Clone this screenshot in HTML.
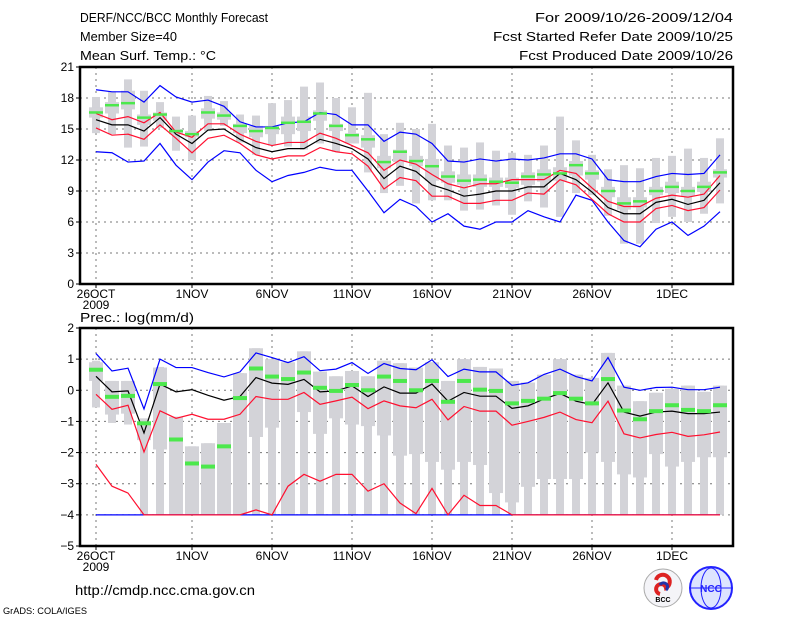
<!DOCTYPE html>
<html><head><meta charset="utf-8"><style>
body{margin:0;background:#fff;}
svg{display:block;font-family:"Liberation Sans",sans-serif;}
</style></head><body>
<svg id="chart" width="800" height="618" viewBox="0 0 800 618" xmlns="http://www.w3.org/2000/svg">
<rect width="800" height="618" fill="#fff"/>
<g font-size="13" fill="#000">
<text x="80" y="22" textLength="188" lengthAdjust="spacingAndGlyphs">DERF/NCC/BCC Monthly Forecast</text>
<text x="80" y="41" textLength="97" lengthAdjust="spacingAndGlyphs">Member Size=40</text>
<text x="80" y="60" textLength="136" lengthAdjust="spacingAndGlyphs">Mean Surf. Temp.: °C</text>
<text x="535" y="22" textLength="198" lengthAdjust="spacingAndGlyphs">For 2009/10/26-2009/12/04</text>
<text x="493" y="41" textLength="240" lengthAdjust="spacingAndGlyphs">Fcst Started Refer Date 2009/10/25</text>
<text x="519" y="60" textLength="214" lengthAdjust="spacingAndGlyphs">Fcst Produced Date 2009/10/26</text>
</g>
<text x="80" y="322" font-size="13" textLength="114" lengthAdjust="spacingAndGlyphs">Prec.: log(mm/d)</text>
<g id="top"></g>
<g id="bot"></g>
<text x="75" y="595" font-size="14" textLength="180" lengthAdjust="spacingAndGlyphs">http://cmdp.ncc.cma.gov.cn</text>
<text x="3" y="614" font-size="9" textLength="84" lengthAdjust="spacingAndGlyphs">GrADS: COLA/IGES</text>
<g>
<circle cx="663" cy="588" r="19" fill="#f4f4f8" stroke="#aaa"/>
<path d="M656 580 a7 7 0 1 1 10 8 a5 5 0 1 0 -6 6" fill="none" stroke="#d22" stroke-width="4"/>
<path d="M660 585 a4 4 0 1 1 6 5" fill="none" stroke="#23a" stroke-width="3"/>
<text x="663" y="602" font-size="7" text-anchor="middle" font-weight="bold">BCC</text>
</g>
<g>
<circle cx="711" cy="588" r="21" fill="#dde4ff" stroke="#22f" stroke-width="2"/>
<ellipse cx="711" cy="588" rx="10" ry="20" fill="none" stroke="#22f"/>
<line x1="691" y1="588" x2="731" y2="588" stroke="#22f"/>
<text x="711" y="592" font-size="10" text-anchor="middle" fill="#22f" font-weight="bold">NCC</text>
</g>
</svg>
<script>
// ---- Temperature data (days 0..39) ----
const tBlueMax=[18.8,18.6,18.6,17.6,19.2,18.1,17.6,17.8,17.2,15.7,15.2,15.2,15.6,15.7,16.6,16.4,15.4,15.4,13.8,14.7,14.5,13.6,11.9,11.8,12.1,11.9,12.1,12.0,12.2,12.6,12.6,12.1,10.1,9.9,9.9,10.4,10.7,10.6,10.7,12.5];
const tRedUp=[16.5,15.9,16.2,15.6,16.6,14.7,14.2,15.5,15.5,14.5,13.8,13.4,13.7,13.7,14.6,14.1,13.4,12.7,11.0,12.0,11.6,10.6,9.7,9.3,9.7,9.7,10.1,10.1,10.1,11.0,10.7,9.3,8.0,7.5,7.5,8.3,8.6,8.4,8.7,10.5];
const tMean=[15.9,15.4,15.4,14.8,16.1,14.5,13.6,14.9,15.0,14.0,13.2,12.8,13.1,13.1,14.0,13.6,13.1,12.1,10.2,11.4,10.9,9.6,9.1,8.5,8.7,9.0,9.0,9.4,9.4,10.7,10.1,8.9,7.4,6.8,6.8,7.9,8.2,7.7,8.1,9.8];
const tRedLo=[15.1,14.4,14.5,14.0,15.4,14.1,12.7,14.1,14.4,13.6,12.5,12.1,12.4,12.4,13.2,12.8,12.6,11.4,9.2,10.3,10.0,8.5,8.5,7.8,7.8,8.1,8.1,8.8,8.7,10.1,9.6,8.2,6.8,6.0,6.0,7.3,7.6,7.1,7.4,9.1];
const tBlueMin=[12.8,12.7,11.8,11.9,13.6,11.5,10.1,11.8,12.9,12.7,11.0,9.9,10.5,10.8,11.3,11.0,11.0,9.0,6.9,8.2,7.5,6.0,6.8,5.6,5.3,6.0,6.0,7.1,6.5,6.0,8.6,8.1,6.0,4.2,3.6,5.3,6.0,4.7,5.6,7.0];
const tObs=[16.6,17.3,17.5,16.1,16.4,14.8,14.5,16.6,16.3,15.3,14.8,15.1,15.6,15.7,16.5,15.3,14.4,14.0,11.8,12.8,11.9,11.4,10.4,10.0,10.1,9.9,9.8,10.4,10.6,10.7,11.5,10.7,9.0,7.8,8.0,9.0,9.4,9.0,9.4,10.8];
const tBoxMin=[14.6,14.5,13.2,13.3,15.1,12.9,12.0,14.8,15.3,13.7,12.5,13.4,13.3,13.0,13.6,12.8,13.6,10.8,8.8,9.5,7.8,8.1,8.1,7.1,7.2,7.6,6.7,8.0,7.4,6.5,8.8,8.6,6.6,3.9,3.9,5.9,6.5,6.0,6.8,7.8];
const tBoxMax=[18.1,18.6,19.8,18.7,17.6,16.2,16.3,18.2,17.7,16.4,16.3,17.5,17.8,19.1,19.5,18.0,17.1,18.5,14.5,15.6,15.0,15.5,13.4,13.2,13.7,12.9,12.7,12.5,13.4,16.2,13.9,12.5,11.1,11.5,11.2,12.2,12.4,13.1,12.2,14.1];
const tQ25=[16.1,16.5,16.9,15.4,15.8,14.5,14.2,16.0,15.9,14.6,14.2,14.5,14.5,14.8,15.8,14.8,13.6,13.2,11.2,11.8,11.4,10.0,9.8,9.6,9.4,9.4,9.3,9.6,9.9,10.0,10.5,10.1,8.4,7.2,7.4,8.6,8.8,8.5,8.9,10.3];
const tQ75=[17.1,17.6,18.7,16.4,16.6,15.0,14.8,17.0,16.6,15.5,15.3,15.3,16.2,16.2,16.8,15.5,14.6,14.4,12.4,13.0,12.4,12.1,10.9,10.6,10.6,10.3,10.3,10.8,11.1,11.3,11.9,11.0,9.4,8.4,8.4,9.4,9.9,9.4,9.9,11.1];
const tTicks=[0,3,6,9,12,15,18,21];
// ---- Precipitation data ----
const pBlueMax=[1.18,0.62,0.71,-0.6,1.0,0.73,0.73,0.57,0.43,0.59,1.2,1.05,0.89,1.08,0.63,0.68,0.89,0.54,0.86,0.7,0.66,0.98,0.44,0.68,0.59,0.59,0.16,0.24,0.51,0.68,0.44,0.3,1.05,0.1,0,0.09,0.1,0.02,0.02,0.1];
const pMean=[0.45,-0.05,-0.02,-1.37,0.2,-0.05,0.02,-0.16,-0.32,-0.2,0.41,0.23,0.19,0.35,-0.05,-0.02,0.14,-0.2,0.11,-0.09,-0.09,0.2,-0.35,-0.07,-0.19,-0.19,-0.58,-0.5,-0.28,-0.1,-0.35,-0.46,0.24,-0.7,-0.83,-0.7,-0.67,-0.75,-0.75,-0.7];
const pRedUp=[-0.13,-0.61,-0.48,-1.98,-0.66,-0.9,-0.77,-0.93,-0.93,-0.77,-0.2,-0.29,-0.29,-0.07,-0.45,-0.34,-0.22,-0.59,-0.34,-0.5,-0.56,-0.29,-0.95,-0.52,-0.67,-0.67,-1.12,-1.0,-0.87,-0.7,-0.94,-1.04,-0.35,-1.4,-1.53,-1.42,-1.35,-1.48,-1.43,-1.34];
const pRedLo=[-2.38,-3.08,-3.3,-4,-4,-4,-4,-4,-4,-4,-3.84,-4,-3.08,-2.7,-2.92,-2.7,-2.7,-3.24,-3.0,-3.62,-3.96,-3.15,-4,-3.37,-3.7,-3.7,-4,-4,-4,-4,-4,-4,-4,-4,-4,-4,-4,-4,-4,-4];
const pBlueMin=[-4,-4,-4,-4,-4,-4,-4,-4,-4,-4,-4,-4,-4,-4,-4,-4,-4,-4,-4,-4,-4,-4,-4,-4,-4,-4,-4,-4,-4,-4,-4,-4,-4,-4,-4,-4,-4,-4,-4,-4];
const pObs=[0.66,-0.21,-0.18,-1.06,0.2,-1.58,-2.35,-2.45,-1.8,-0.25,0.7,0.44,0.36,0.57,0.08,-0.02,0.17,0.0,0.44,0.3,0.0,0.3,-0.37,0.3,0.02,-0.02,-0.42,-0.34,-0.27,-0.09,-0.27,-0.42,0.36,-0.65,-0.93,-0.67,-0.48,-0.63,-0.67,-0.48];
const pBoxMin=[-0.55,-1.05,-1.1,-4,-4,-4,-4,-4,-4,-4,-4,-4,-4,-4,-4,-4,-4,-4,-4,-4,-4,-4,-4,-4,-4,-4,-4,-4,-4,-4,-4,-4,-4,-4,-4,-4,-4,-4,-4,-4];
const pBoxMax=[0.95,0.3,0.3,-0.9,0.75,-0.85,-1.8,-1.7,-1.05,0.55,1.35,1.0,0.9,1.25,0.6,0.45,0.62,0.45,0.95,0.87,0.73,0.9,0.3,1.0,0.75,0.7,0.3,0.25,0.5,1.0,0.5,0.4,1.2,0.15,-0.35,-0.08,0.05,0.15,-0.05,0.15];
const pQ25=[0.3,-0.78,-0.75,-1.6,-1.9,-4,-4,-4,-4,-4,-1.5,-1.2,-4,-0.7,-1.4,-0.9,-1.1,-1.15,-1.45,-2.1,-2.05,-2.3,-2.55,-2.3,-2.4,-3.3,-3.6,-3.1,-2.85,-2.85,-2.85,-2.0,-2.3,-2.7,-2.8,-2.05,-2.45,-2.3,-2.15,-2.15];
const pQ75=[0.9,0.3,0.3,-1.0,0.73,-0.85,-1.8,-1.7,-1.05,0.55,1.35,1.0,0.9,1.25,0.6,0.45,0.62,0.45,0.95,0.87,0.73,0.9,0.3,1.0,0.75,0.7,0.3,0.25,0.5,1.0,0.5,0.4,1.2,0.15,-0.35,-0.08,0.05,0.15,-0.05,0.15];
const pTicks=[-5,-4,-3,-2,-1,0,1,2];
// ---- x axis ----
const xTickDays=[0,6,11,16,21,26,31,36];
const xTickLabels=["26OCT","1NOV","6NOV","11NOV","16NOV","21NOV","26NOV","1DEC"];

const NS="http://www.w3.org/2000/svg";
const X0=80,X1=733;
const xs=d=>96+16*d;
function mk(p,tag,at){const e=document.createElementNS(NS,tag);for(const k in at)e.setAttribute(k,at[k]);p.appendChild(e);return e;}

function panel(g,top,bot,vmin,vmax,ticks,S){
  const ys=v=>bot-(v-vmin)/(vmax-vmin)*(bot-top);
  ticks.forEach(t=>{
    if(t!==vmin&&t!==vmax){const l=mk(g,'line',{x1:X0,x2:X1,y1:ys(t),y2:ys(t),stroke:'#777','stroke-dasharray':'2,4','stroke-width':1});
    
    }
    mk(g,'line',{x1:X0-4,x2:X0,y1:ys(t),y2:ys(t),stroke:'#000'});
    const tx=mk(g,'text',{x:X0-6,y:ys(t)+4,'text-anchor':'end','font-size':12});
    tx.textContent=String(t).replace('-','\u2212');
    
    
  });
  xTickDays.forEach((d,i)=>{
    const l=mk(g,'line',{x1:xs(d),x2:xs(d),y1:top,y2:bot,stroke:'#777','stroke-dasharray':'2,4'});
    
    
    mk(g,'line',{x1:xs(d),x2:xs(d),y1:bot,y2:bot+4,stroke:'#000'});
    const tx=mk(g,'text',{x:xs(d),y:bot+14,'text-anchor':'middle','font-size':12});
    tx.textContent=xTickLabels[i];
    
    
  });
  const yr=mk(g,'text',{x:xs(0),y:bot+25,'text-anchor':'middle','font-size':12});
  yr.textContent='2009';
  
  
  for(let d=0;d<S.bmin.length;d++){
    const x=xs(d);
    const o=mk(g,'rect',{x:x-4,width:8,y:ys(S.bmax[d]),height:Math.max(1,ys(S.bmin[d])-ys(S.bmax[d])),fill:'#d3d3d8'});
    
    
    const q=mk(g,'rect',{x:x-7,width:14,y:ys(S.q75[d]),height:Math.max(1,ys(S.q25[d])-ys(S.q75[d])),fill:'#d3d3d8'});
    
    
  }
  const line=(arr,col,name)=>{
    const p=mk(g,'polyline',{points:arr.map((v,d)=>xs(d)+','+ys(v)).join(' '),fill:'none',stroke:col,'stroke-width':1.2});
    
    
  };
  line(S.bmn,'#0000ff','min-line');
  line(S.rlo,'#ff1030','lower-line');
  line(S.mean,'#000','ensemble-mean-line');
  line(S.rup,'#ff1030','upper-line');
  line(S.bmx,'#0000ff','max-line');
  S.obs.forEach((v,d)=>{
    const r=mk(g,'rect',{x:xs(d)-7,width:14,y:ys(v)-S.gh/2,height:S.gh,fill:'#4ce84c'});
    
    
  });
  const f=mk(g,'rect',{x:X0,y:top,width:X1-X0,height:bot-top,fill:'none',stroke:'#000','stroke-width':2.5});
  
  
}
panel(document.getElementById('top'),67,284,0,21,tTicks,{bmin:tBoxMin,bmax:tBoxMax,q25:tQ25,q75:tQ75,bmn:tBlueMin,rlo:tRedLo,mean:tMean,rup:tRedUp,bmx:tBlueMax,obs:tObs,gh:2.5});
panel(document.getElementById('bot'),328,546,-5,2,pTicks,{bmin:pBoxMin,bmax:pBoxMax,q25:pQ25,q75:pQ75,bmn:pBlueMin,rlo:pRedLo,mean:pMean,rup:pRedUp,bmx:pBlueMax,obs:pObs,gh:4});
</script>
</body></html>
